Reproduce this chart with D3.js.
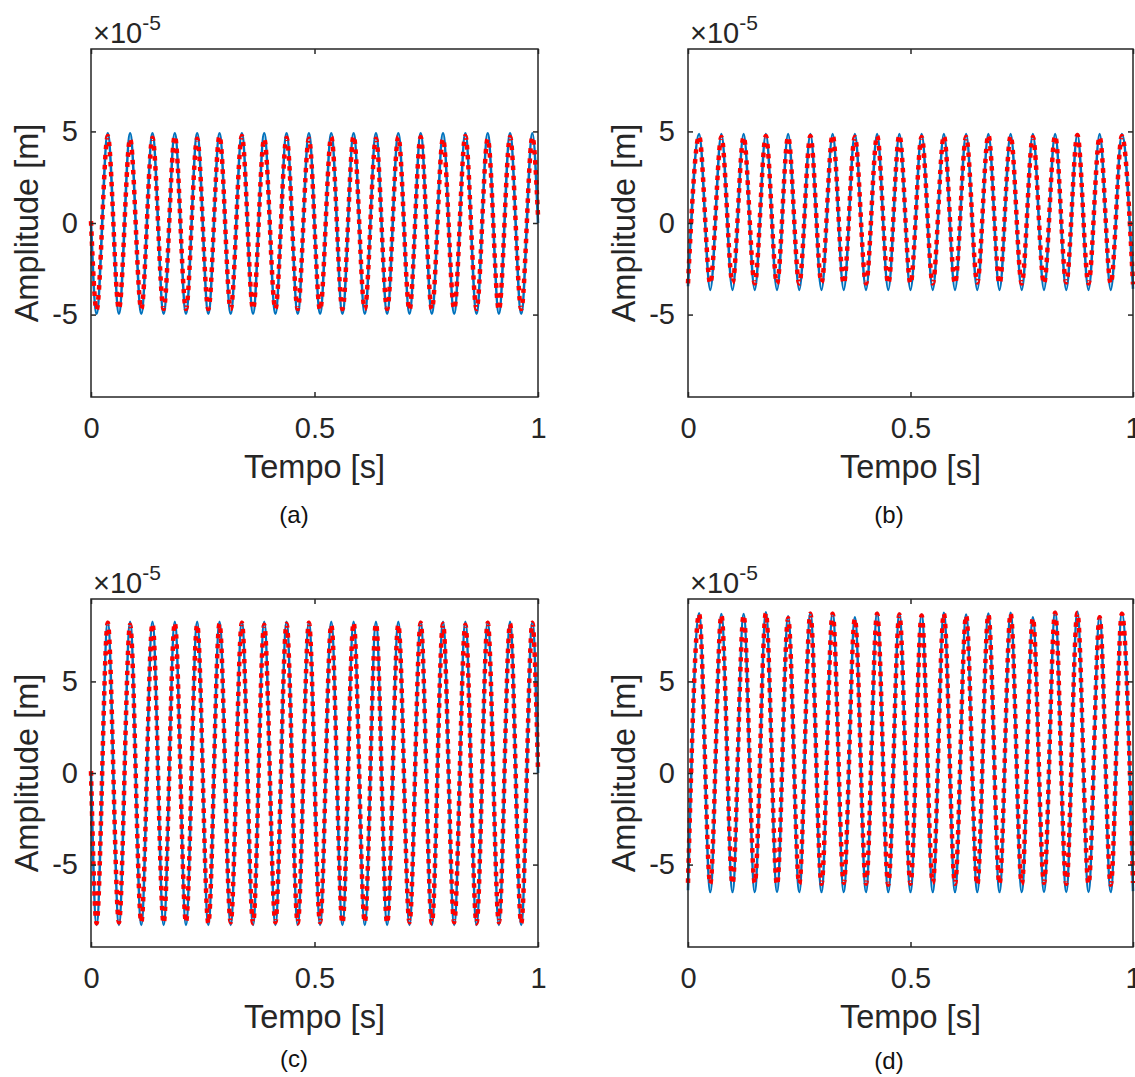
<!DOCTYPE html>
<html>
<head>
<meta charset="utf-8">
<script src="https://cdn.jsdelivr.net/npm/d3@7"></script>
<style>
body { margin: 0; background: #fff; }
svg { display: block; font-family: "Liberation Sans", Arial, Helvetica, sans-serif; }
</style>
</head>
<body>
<div id="chart"></div>
<script>
// instants of the extrema [s]
var timeAC = [0, 0.0125, 0.0375, 0.0625, 0.0875, 0.1125, 0.1375, 0.1625, 0.1875, 0.2125, 0.2375,
    0.2625, 0.2875, 0.3125, 0.3375, 0.3625, 0.3875, 0.4125, 0.4375, 0.4625, 0.4875,
    0.5125, 0.5375, 0.5625, 0.5875, 0.6125, 0.6375, 0.6625, 0.6875, 0.7125, 0.7375,
    0.7625, 0.7875, 0.8125, 0.8375, 0.8625, 0.8875, 0.9125, 0.9375, 0.9625, 0.9875, 1];
var timeBD = [0, 0.025, 0.05, 0.075, 0.1, 0.125, 0.15, 0.175, 0.2, 0.225, 0.25,
    0.275, 0.3, 0.325, 0.35, 0.375, 0.4, 0.425, 0.45, 0.475, 0.5,
    0.525, 0.55, 0.575, 0.6, 0.625, 0.65, 0.675, 0.7, 0.725, 0.75,
    0.775, 0.8, 0.825, 0.85, 0.875, 0.9, 0.925, 0.95, 0.975, 1];

// amplitude at those instants [x1e-5 m] - blue = solid line, red = dotted line
var blueA = [0, -4.95, 4.9, -4.95, 4.9, -4.95, 4.9, -4.95, 4.9, -4.95, 4.9,
    -4.95, 4.9, -4.95, 4.9, -4.95, 4.9, -4.95, 4.9, -4.95, 4.9,
    -4.95, 4.9, -4.95, 4.9, -4.95, 4.9, -4.95, 4.9, -4.95, 4.9,
    -4.95, 4.9, -4.95, 4.9, -4.95, 4.9, -4.95, 4.9, -4.95, 4.9, 0];
var redA = [0.1, -4.75, 4.75, -4.7, 4.6, -4.7, 4.65, -4.7, 4.75, -4.7, 4.6,
    -4.7, 4.75, -4.7, 4.75, -4.7, 4.6, -4.7, 4.65, -4.7, 4.6,
    -4.75, 4.7, -4.7, 4.75, -4.7, 4.6, -4.7, 4.7, -4.75, 4.7,
    -4.7, 4.6, -4.7, 4.75, -4.7, 4.6, -4.75, 4.7, -4.7, 4.7, 0.4];

var blueB = [-3.45, 4.85, -3.65, 4.85, -3.65, 4.85, -3.65, 4.85, -3.65, 4.85, -3.65,
    4.85, -3.65, 4.85, -3.65, 4.85, -3.65, 4.85, -3.65, 4.85, -3.65,
    4.85, -3.65, 4.85, -3.65, 4.85, -3.65, 4.85, -3.65, 4.85, -3.65,
    4.85, -3.65, 4.85, -3.65, 4.85, -3.65, 4.85, -3.65, 4.85, -3.6];
var redB = [-3.3, 4.75, -3.3, 4.7, -3.25, 4.7, -3.3, 4.75, -3.3, 4.7, -3.3,
    4.75, -3.25, 4.8, -3.3, 4.7, -3.3, 4.75, -3.3, 4.8, -3.3,
    4.7, -3.3, 4.75, -3.3, 4.7, -3.25, 4.8, -3.3, 4.75, -3.3,
    4.7, -3.3, 4.75, -3.25, 4.8, -3.3, 4.7, -3.3, 4.75, -3.35];

var blueC = [0, -8.3, 8.25, -8.3, 8.25, -8.3, 8.25, -8.3, 8.25, -8.3, 8.25,
    -8.3, 8.25, -8.3, 8.25, -8.3, 8.25, -8.3, 8.25, -8.3, 8.25,
    -8.3, 8.25, -8.3, 8.25, -8.3, 8.25, -8.3, 8.25, -8.3, 8.25,
    -8.3, 8.25, -8.3, 8.25, -8.3, 8.25, -8.3, 8.25, -8.3, 8.25, 0];
var redC = [0.1, -8.2, 8.2, -8.15, 8.1, -8.15, 8.15, -8.2, 8.2, -8.15, 8.1,
    -8.2, 8.15, -8.15, 8.2, -8.2, 8.1, -8.15, 8.15, -8.2, 8.2,
    -8.15, 8.1, -8.2, 8.2, -8.15, 8.15, -8.2, 8.1, -8.15, 8.2,
    -8.2, 8.15, -8.15, 8.1, -8.2, 8.2, -8.15, 8.15, -8.2, 8.2, 0.2];

var blueD = [-6.4, 8.72, -6.5, 8.68, -6.5, 8.68, -6.5, 8.78, -6.5, 8.55, -6.5,
    8.75, -6.5, 8.75, -6.5, 8.5, -6.5, 8.75, -6.5, 8.7, -6.5,
    8.65, -6.5, 8.75, -6.5, 8.65, -6.5, 8.7, -6.5, 8.75, -6.5,
    8.5, -6.5, 8.8, -6.5, 8.8, -6.5, 8.55, -6.5, 8.75, -6.45];
var redD = [-6.0, 8.68, -6.05, 8.62, -6.05, 8.62, -6.0, 8.72, -6.1, 8.45, -6.05,
    8.7, -6.05, 8.7, -6.0, 8.42, -6.05, 8.7, -6.1, 8.65, -6.05,
    8.6, -6.0, 8.7, -6.05, 8.6, -6.1, 8.65, -6.05, 8.7, -6.05,
    8.45, -6.0, 8.75, -6.05, 8.75, -6.05, 8.5, -6.1, 8.7, -6.0];

var xTicks = [0, 0.5, 1];
var xTickLabels = ["0", "0.5", "1"];
var yTicks = [-5, 0, 5];
var yTickLabels = ["-5", "0", "5"];
var xLimit = [0, 1];
var yLimit = [-9.5, 9.5];
var captions = ["(a)", "(b)", "(c)", "(d)"];

var ink = "#262626";

var panels = [
    {left: 91,  top: 49,  width: 447, height: 348, t: timeAC, blue: blueA, red: redA, cap: captions[0], capX: 294, capY: 523},
    {left: 688, top: 49,  width: 445, height: 348, t: timeBD, blue: blueB, red: redB, cap: captions[1], capX: 889, capY: 523},
    {left: 91,  top: 599, width: 447, height: 348, t: timeAC, blue: blueC, red: redC, cap: captions[2], capX: 294, capY: 1067},
    {left: 688, top: 599, width: 445, height: 348, t: timeBD, blue: blueD, red: redD, cap: captions[3], capX: 889, capY: 1069}
];

var svg = d3.select("#chart").append("svg")
    .attr("width", 1135)
    .attr("height", 1077);

svg.append("rect").attr("width", 1135).attr("height", 1077).attr("fill", "#fff");

function drawPanel(p) {
    var g = svg.append("g")
        .attr("transform", "translate(" + p.left + "," + p.top + ")");

    var x = d3.scaleLinear().domain(xLimit).range([0, p.width]);
    var y = d3.scaleLinear().domain(yLimit).range([p.height, 0]);

    // curves
    var line = d3.line()
        .x(function(d, i) { return x(p.t[i]); })
        .y(function(d) { return y(d); })
        .curve(d3.curveMonotoneX);

    g.append("path")
        .datum(p.blue)
        .attr("fill", "none")
        .attr("stroke", "#0072BD")
        .attr("stroke-width", 2.6)
        .attr("d", line);

    g.append("path")
        .datum(p.red)
        .attr("fill", "none")
        .attr("stroke", "#ff0000")
        .attr("stroke-width", 4.5)
        .attr("stroke-dasharray", "4.5,5.5")
        .attr("d", line);

    // axes, matlab style: inward ticks on all four sides
    var bottom = g.append("g")
        .attr("transform", "translate(0," + p.height + ")")
        .call(d3.axisBottom(x).tickValues(xTicks).tickSize(-5).tickPadding(20)
            .tickFormat(function(d, i) { return xTickLabels[i]; }));
    var top = g.append("g")
        .call(d3.axisTop(x).tickValues(xTicks).tickSize(-5).tickFormat(""));
    var left = g.append("g")
        .call(d3.axisLeft(y).tickValues(yTicks).tickSize(-5).tickPadding(13)
            .tickFormat(function(d, i) { return yTickLabels[i]; }));
    var right = g.append("g")
        .attr("transform", "translate(" + p.width + ",0)")
        .call(d3.axisRight(y).tickValues(yTicks).tickSize(-5).tickFormat(""));

    [bottom, top, left, right].forEach(function(a) {
        a.select(".domain").remove();
        a.selectAll(".tick line").attr("stroke", ink).attr("stroke-width", 1.5);
        a.selectAll(".tick text")
            .attr("fill", ink)
            .style("font-size", "29px")
            .style("font-family", "'Liberation Sans', Arial, Helvetica, sans-serif");
    });

    g.append("rect")
        .attr("width", p.width)
        .attr("height", p.height)
        .attr("fill", "none")
        .attr("stroke", ink)
        .attr("stroke-width", 1.5);

    // exponent
    var ex = g.append("text")
        .attr("x", 2)
        .attr("y", -6)
        .attr("fill", ink)
        .style("font-size", "29px");
    ex.append("tspan").text("\u00d7");
    ex.append("tspan").text("10");
    ex.append("tspan").attr("dy", -13).style("font-size", "21px").text("-5");

    // axis labels
    g.append("text")
        .attr("x", p.width / 2)
        .attr("y", p.height + 81)
        .attr("text-anchor", "middle")
        .attr("fill", ink)
        .style("font-size", "32.5px")
        .text("Tempo [s]");

    g.append("text")
        .attr("transform", "translate(-53.5," + (p.height / 2) + ") rotate(-90)")
        .attr("text-anchor", "middle")
        .attr("fill", ink)
        .style("font-size", "32.5px")
        .text("Amplitude [m]");

    // sub-figure caption
    svg.append("text")
        .attr("x", p.capX)
        .attr("y", p.capY)
        .attr("text-anchor", "middle")
        .attr("fill", "#111")
        .style("font-size", "24px")
        .text(p.cap);
}

panels.forEach(drawPanel);
</script>
</body>
</html>
